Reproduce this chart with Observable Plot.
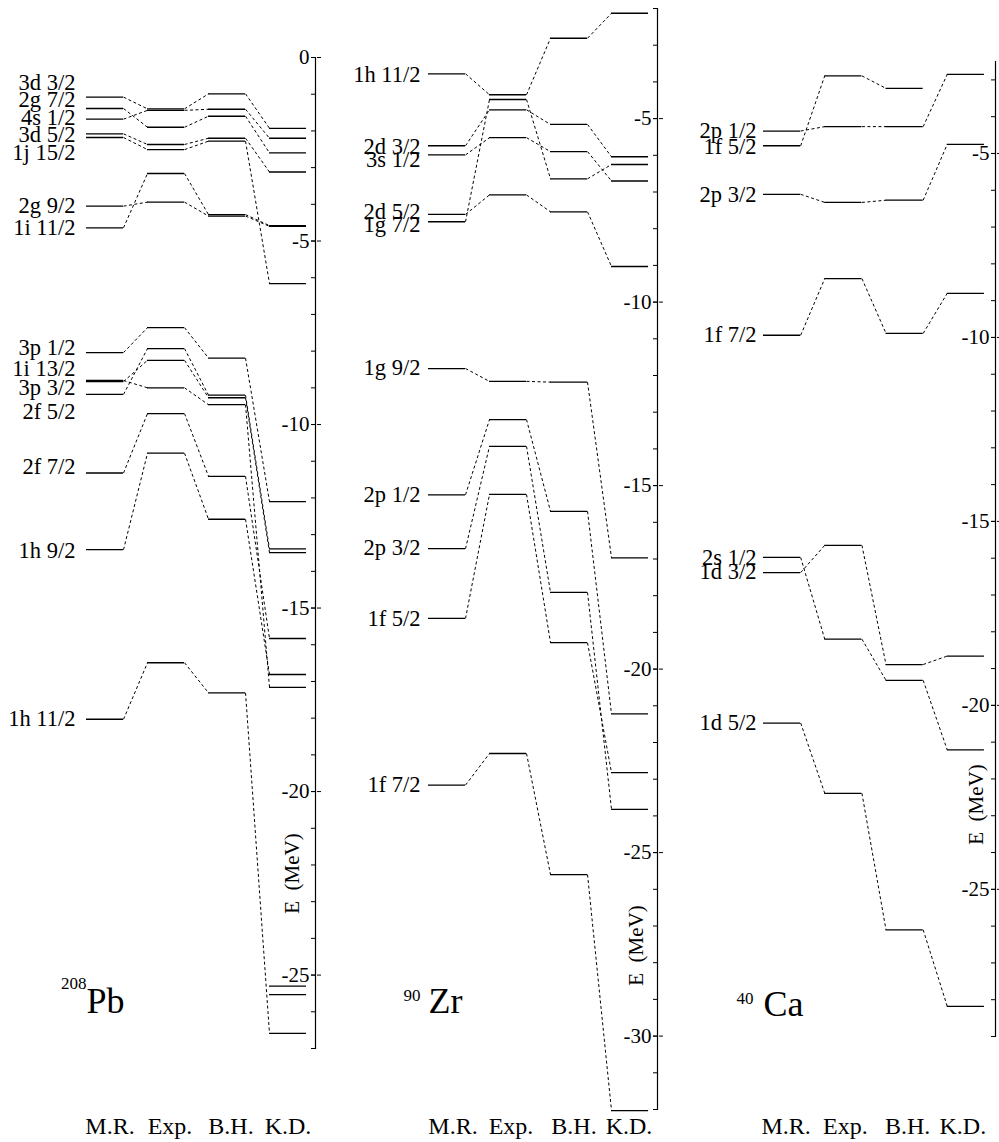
<!DOCTYPE html>
<html><head><meta charset="utf-8">
<script src="https://cdn.jsdelivr.net/npm/d3@7"></script>
<script src="https://cdn.jsdelivr.net/npm/@observablehq/plot@0.6"></script>
<style>
body{margin:0;background:#fff;}
#wrap{position:relative;width:999px;height:1142px;background:#fff;}
#wrap svg{position:absolute;top:0;}
</style></head><body><div id="wrap"></div>
<script>
const columns = ["M.R.", "Exp.", "B.H.", "K.D."];

// ---- 208Pb (neutron single-particle levels, MeV) ----
const pbLabels = ["3d 3/2","2g 7/2","4s 1/2","3d 5/2","1j 15/2","2g 9/2","1i 11/2",
                  "3p 1/2","1i 13/2","3p 3/2","2f 5/2","2f 7/2","1h 9/2","1h 11/2"];
const pbLabelE = [-0.69,-1.16,-1.65,-2.11,-2.60,-4.03,-4.64,
                  -7.91,-8.47,-9.01,-9.65,-11.15,-13.43,-18.03];
const pbMR  = [-1.08,-1.39,-1.68,-2.08,-2.18,-4.05,-4.64, -8.04,-8.80,-8.83,-9.18,-11.32,-13.41,-18.03];
const pbExp = [-1.40,-1.90,-1.44,-2.37,-2.51,-3.94,-3.16, -7.36,-9.00,-8.25,-7.93,-9.70,-10.78,-16.49];
const pbBH  = [-0.99,-1.60,-1.41,-2.20,-2.28,-4.32,-4.28, -8.19,-9.46,-9.27,-9.20,-11.41,-12.58,-17.31];
const pbKD  = [-1.93,-2.60,-2.20,-3.12,-6.16,-4.60,-4.58, -12.10,-17.16,-13.49,-13.39,-15.83,-16.81,-26.59];
const pbKDextra = [-25.30,-25.53];
const pbTicks = [0,-5,-10,-15,-20,-25];
const pbMinor = d3.range(0,-27.5,-1);

// ---- 90Zr ----
const zrLabels = ["1h 11/2","2d 3/2","3s 1/2","2d 5/2","1g 7/2","1g 9/2","2p 1/2","2p 3/2","1f 5/2","1f 7/2"];
const zrLabelE = [-3.81,-5.76,-6.12,-7.55,-7.89,-11.80,-15.25,-16.70,-18.62,-23.15];
const zrMR  = [-3.78,-5.74,-5.99,-7.61,-7.81,-11.81,-15.25,-16.72,-18.62,-23.16];
const zrExp = [-4.35,-4.76,-5.52,-7.08,-4.48,-12.16,-13.20,-13.93,-15.24,-22.30];
const zrBH  = [-2.81,-5.16,-5.90,-7.54,-6.64,-12.18,-15.70,-17.91,-19.28,-25.60];
const zrKD  = [-2.13,-6.04,-6.70,-9.03,-6.25,-16.97,-21.22,-23.82,-22.82,-32.03];
const zrTicks = [-5,-10,-15,-20,-25,-30];
const zrMinor = d3.range(-2,-32.5,-1);

// ---- 40Ca ----
const caLabels = ["2p 1/2","1f 5/2","2p 3/2","1f 7/2","2s 1/2","1d 3/2","1d 5/2"];
const caLabelE = [-4.38,-4.82,-6.11,-9.92,-15.98,-16.36,-20.48];
const caMR  = [-4.39,-4.79,-6.11,-9.94,-15.98,-16.39,-20.48];
const caExp = [-4.27,-2.89,-6.33,-8.40,-18.20,-15.65,-22.39];
const caBH  = [-4.27,-3.23,-6.27,-9.89,-19.32,-18.89,-26.10];
const caKD  = [-2.85,null,-4.75,-8.80,-21.21,-18.66,-28.18];
const caTicks = [-5,-10,-15,-20,-25];
const caMinor = d3.range(-3,-29.5,-1);

const H = 1142;
const W = 0.607; // level bar length in column units
const FONT = "'Liberation Serif', 'Times New Roman', serif";

function panel(o) {
  const cols = [o.mr, o.exp, o.bh, o.kd];
  const segs = [], links = [];
  o.labels.forEach((lab, i) => {
    cols.forEach((arr, c) => {
      const v = arr[i];
      if (v == null) return;
      segs.push({x1: c, x2: c + W, y: v});
      if (c < 3 && cols[c + 1][i] != null) links.push({x1: c + W, y1: v, x2: c + 1, y2: cols[c + 1][i]});
    });
  });
  (o.extraKD || []).forEach(v => segs.push({x1: 3, x2: 3 + W, y: v}));
  const frameBottom = H - o.bottom;
  const svg = Plot.plot({
    width: o.width, height: H,
    marginLeft: o.axisAt, marginRight: o.width - o.axisAt - 1,
    marginTop: o.top, marginBottom: o.bottom,
    x: {domain: [0, 4], range: o.xRange, axis: null},
    y: {domain: o.domain},
    style: {fontFamily: FONT, fontSize: "21px", color: "#000", background: "transparent", overflow: "visible"},
    marks: [
      Plot.frame({anchor: "left", stroke: "#000", strokeWidth: 1.2}),
      Plot.axisY({anchor: "left", ticks: o.minor, tickSize: 4, tickFormat: () => "", label: null, strokeWidth: 1}),
      Plot.axisY({anchor: "left", ticks: o.ticks, tickSize: 4, tickPadding: 2, tickFormat: d => String(d), label: null, fontSize: 21, strokeWidth: 1}),
      Plot.axisY({anchor: "right", ticks: o.ticks, tickSize: 4, tickFormat: () => "", label: null, strokeWidth: 1}),
      Plot.link(links, {x1: "x1", y1: "y1", x2: "x2", y2: "y2", stroke: "#000", strokeWidth: 1, strokeDasharray: "3,2.5"}),
      Plot.ruleY(segs, {x1: "x1", x2: "x2", y: "y", stroke: "#000", strokeWidth: 1.3}),
      Plot.text(o.labels, {x: 0, y: (d, i) => o.labelE[i], text: d => d, textAnchor: "end", dx: -o.gap, fontSize: 22.5, fill: "#000"}),
      ...columns.map((c, i) => Plot.text([c], {x: i + W / 2, frameAnchor: "bottom", lineAnchor: "middle", dy: 1126 - frameBottom, dx: o.colDx[i], text: d => d, fontSize: 24, fill: "#000"})),
      Plot.text([o.symbol], {x: 0, frameAnchor: "bottom", textAnchor: "start", lineAnchor: "bottom", dy: o.symBase - frameBottom, text: d => d, fontSize: 36, fill: "#000"}),
      Plot.text([o.mass], {x: 0, frameAnchor: "bottom", textAnchor: "end", lineAnchor: "bottom", dx: o.massDx, dy: o.massBase - frameBottom, text: d => d, fontSize: 17, fill: "#000"}),
      Plot.text(["E  (MeV)"], {frameAnchor: "bottom-left", textAnchor: "middle", lineAnchor: "middle", dx: o.eDx, dy: o.eY - frameBottom, rotate: -90, text: d => d, fontSize: 21, fill: "#000"})
    ]
  });
  svg.style.left = o.left + "px";
  document.getElementById("wrap").appendChild(svg);
}

panel({left: 0, width: 340, axisAt: 315, top: 57, bottom: 94, domain: [-27, 0], xRange: [86, 330],
  labels: pbLabels, labelE: pbLabelE, mr: pbMR, exp: pbExp, bh: pbBH, kd: pbKD, extraKD: pbKDextra,
  ticks: pbTicks, minor: pbMinor, gap: 11, symbol: "Pb", mass: "208", symBase: 1012, massBase: 988, massDx: 0,
  eDx: -23, eY: 873, colDx: [5, 4, 4, 0]});
panel({left: 340, width: 330, axisAt: 317, top: 8, bottom: 33, domain: [-32, -2], xRange: [88, 332],
  labels: zrLabels, labelE: zrLabelE, mr: zrMR, exp: zrExp, bh: zrBH, kd: zrKD,
  ticks: zrTicks, minor: zrMinor, gap: 8, symbol: "Zr", mass: "90", symBase: 1012, massBase: 1000, massDx: -8,
  eDx: -21, eY: 945, colDx: [6, 3, 5, -1]});
panel({left: 670, width: 329, axisAt: 325, top: 61, bottom: 106, domain: [-29, -2.5], xRange: [93, 338],
  labels: caLabels, labelE: caLabelE, mr: caMR, exp: caExp, bh: caBH, kd: caKD,
  ticks: caTicks, minor: caMinor, gap: 7, symbol: "Ca", mass: "40", symBase: 1015, massBase: 1003, massDx: -10,
  eDx: -19, eY: 804, colDx: [4, 2, 3, -3]});
</script></body></html>
